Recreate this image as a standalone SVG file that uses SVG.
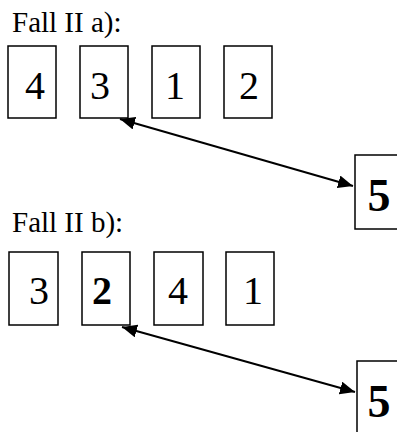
<svg xmlns="http://www.w3.org/2000/svg" width="397" height="432" viewBox="0 0 397 432">
<style>
.box{fill:#fff;stroke:#000;stroke-width:1.5}
.lbl{font-family:"Liberation Serif","Times New Roman",serif;font-size:29px;fill:#000}
.dig{font-family:"Liberation Serif","Times New Roman",serif;font-size:40px;fill:#000;text-anchor:middle}
.b{font-weight:bold}
.five{font-family:"Liberation Serif","Times New Roman",serif;font-size:46px;font-weight:bold;fill:#000;text-anchor:middle}
.conn{stroke:#000;stroke-width:2;fill:none}
</style>
<defs>
<marker id="ah" markerUnits="userSpaceOnUse" markerWidth="16" markerHeight="14" refX="15" refY="6.5" orient="auto-start-reverse">
<path d="M0,0 L15,6.5 L0,13 z" fill="#000"/>
</marker>
</defs>
<rect width="397" height="432" fill="#fff"/>
<text class="lbl" x="12" y="32">Fall II a):</text>
<g id="a4"><rect class="box" x="8" y="46" width="48" height="72"/><text class="dig" x="35" y="99">4</text></g>
<g id="a3"><rect class="box" x="80" y="46" width="48" height="72"/><text class="dig" x="100" y="99">3</text></g>
<g id="a1"><rect class="box" x="152" y="46" width="48" height="72"/><text class="dig" x="175" y="99">1</text></g>
<g id="a2"><rect class="box" x="224" y="46" width="48" height="72"/><text class="dig" x="249" y="99">2</text></g>
<g id="a5"><rect class="box" x="355" y="155" width="60" height="74"/><text class="five" x="379" y="211">5</text></g>
<text class="lbl" x="12" y="232">Fall II b):</text>
<g id="b3"><rect class="box" x="9" y="252" width="49" height="73"/><text class="dig" x="39" y="304">3</text></g>
<g id="b2"><rect class="box" x="82" y="252" width="48" height="73"/><text class="dig b" x="102" y="304">2</text></g>
<g id="b4"><rect class="box" x="154" y="252" width="49" height="73"/><text class="dig" x="178" y="304">4</text></g>
<g id="b1"><rect class="box" x="226" y="252" width="48" height="73"/><text class="dig" x="253" y="304">1</text></g>
<g id="b5"><rect class="box" x="357" y="361" width="60" height="80"/><text class="five" x="379" y="417">5</text></g>
<g id="connectors">
<line class="conn" x1="120" y1="119" x2="353" y2="186" marker-start="url(#ah)" marker-end="url(#ah)"/>
<line class="conn" x1="122" y1="327" x2="355" y2="392" marker-start="url(#ah)" marker-end="url(#ah)"/>
</g>
</svg>
